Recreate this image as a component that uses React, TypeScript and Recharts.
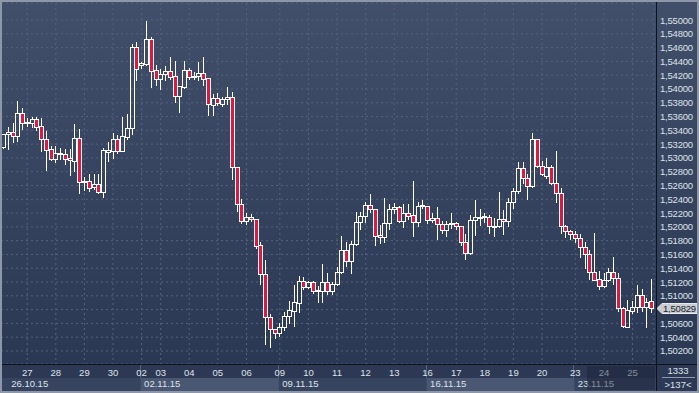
import { Bar, CartesianGrid, ComposedChart, ReferenceLine, XAxis, YAxis } from "recharts";

// H4 candles, 26.10.15 - 25.11.15
const open = [
  1.53163, 1.53343, 1.53372, 1.53314, 1.53647, 1.53502, 1.53511, 1.5356, 1.53463, 1.5327,
  1.53125, 1.52978, 1.53053, 1.53057, 1.52999, 1.5296, 1.53289, 1.52655, 1.52666, 1.52579,
  1.52618, 1.5251, 1.53086, 1.53101, 1.5327, 1.53105, 1.53308, 1.5343, 1.54604, 1.54348,
  1.54358, 1.5472, 1.54275, 1.54149, 1.54213, 1.54261, 1.54181, 1.53905, 1.54033, 1.54275,
  1.54184, 1.54184, 1.54227, 1.54155, 1.53772, 1.53865, 1.53782, 1.5385, 1.53879, 1.52873,
  1.52328, 1.5209, 1.52144, 1.5211, 1.51738, 1.51313, 1.50689, 1.50515, 1.50457, 1.50544,
  1.50708, 1.50785, 1.50901, 1.51216, 1.51133, 1.51197, 1.51081, 1.51071, 1.51197, 1.51075,
  1.51168, 1.51342, 1.51665, 1.5151, 1.51748, 1.52067, 1.52158, 1.52318, 1.52255, 1.51883,
  1.51849, 1.52052, 1.52255, 1.52293, 1.5209, 1.52197, 1.52177, 1.52067, 1.52313, 1.52308,
  1.521, 1.52125, 1.52038, 1.51955, 1.52038, 1.52052, 1.52006, 1.51785, 1.51617, 1.521,
  1.52125, 1.52154, 1.52148, 1.52009, 1.52019, 1.52115, 1.52086, 1.52357, 1.52521, 1.5285,
  1.52705, 1.52597, 1.5327, 1.52888, 1.52742, 1.52864, 1.52632, 1.52487, 1.52006, 1.51941,
  1.51893, 1.51835, 1.51704, 1.51603, 1.51342, 1.5124, 1.51143, 1.5123, 1.51342, 1.51255,
  1.5082, 1.50553, 1.50785, 1.50834, 1.5101, 1.50834, 1.50921,
];
const high = [
  1.53354, 1.53449, 1.53507, 1.53826, 1.53724, 1.53575, 1.53593, 1.53589, 1.53583, 1.53391,
  1.53173, 1.53169, 1.5314, 1.53134, 1.5313, 1.53492, 1.53424, 1.52719, 1.52763, 1.5276,
  1.52767, 1.5314, 1.53231, 1.53357, 1.53333, 1.53593, 1.53641, 1.54652, 1.54685, 1.54395,
  1.54986, 1.54753, 1.54348, 1.5429, 1.54333, 1.54464, 1.54406, 1.54043, 1.54406, 1.543,
  1.54242, 1.54391, 1.54464, 1.54155, 1.53927, 1.53937, 1.53883, 1.54024, 1.5396, 1.52873,
  1.52405, 1.52197, 1.52192, 1.5211, 1.51785, 1.5152, 1.50737, 1.50515, 1.50602, 1.50762,
  1.50922, 1.51158, 1.51288, 1.51278, 1.5122, 1.5122, 1.51143, 1.51458, 1.51327, 1.51205,
  1.51414, 1.51868, 1.51785, 1.51796, 1.52212, 1.52212, 1.52365, 1.52477, 1.52255, 1.52028,
  1.52415, 1.52332, 1.52351, 1.52303, 1.52328, 1.52328, 1.5267, 1.52357, 1.5239, 1.52308,
  1.52197, 1.52284, 1.5209, 1.5209, 1.52197, 1.52075, 1.52017, 1.51893, 1.52177, 1.5239,
  1.5226, 1.52206, 1.52177, 1.52125, 1.52502, 1.52245, 1.52423, 1.5256, 1.52937, 1.52937,
  1.52767, 1.53366, 1.5327, 1.5296, 1.53003, 1.52898, 1.53105, 1.5256, 1.52028, 1.51955,
  1.51945, 1.51893, 1.51785, 1.51665, 1.51916, 1.51361, 1.51327, 1.514, 1.51568, 1.51327,
  1.50834, 1.5094, 1.50926, 1.51158, 1.51095, 1.50965, 1.5124,
];
const low = [
  1.53151, 1.53134, 1.53235, 1.5325, 1.53424, 1.53463, 1.53449, 1.53405, 1.53105, 1.52825,
  1.5297, 1.52945, 1.5298, 1.52908, 1.52757, 1.52815, 1.52487, 1.52535, 1.52521, 1.5255,
  1.52496, 1.52429, 1.52956, 1.53005, 1.53076, 1.53098, 1.53279, 1.53351, 1.54125, 1.543,
  1.54348, 1.54033, 1.54058, 1.53999, 1.54125, 1.54145, 1.53804, 1.5367, 1.54018, 1.54145,
  1.5414, 1.5413, 1.54058, 1.53623, 1.53618, 1.53763, 1.53757, 1.53778, 1.52695, 1.52231,
  1.52061, 1.52038, 1.52086, 1.5169, 1.51168, 1.50298, 1.50263, 1.50393, 1.50418, 1.50505,
  1.50602, 1.50567, 1.5077, 1.511, 1.5111, 1.51046, 1.50915, 1.50915, 1.51023, 1.51027,
  1.51158, 1.51327, 1.51433, 1.51336, 1.51738, 1.51965, 1.52075, 1.5222, 1.51738, 1.51762,
  1.51785, 1.5197, 1.52197, 1.52075, 1.51998, 1.52115, 1.51872, 1.52017, 1.5227, 1.52061,
  1.52067, 1.5182, 1.51906, 1.51872, 1.51985, 1.5197, 1.51738, 1.51535, 1.5161, 1.51883,
  1.52028, 1.52067, 1.51916, 1.51872, 1.52, 1.51893, 1.52019, 1.5227, 1.52496, 1.52641,
  1.524, 1.52583, 1.52864, 1.52752, 1.52713, 1.52622, 1.52365, 1.51916, 1.51858, 1.5182,
  1.51785, 1.51568, 1.51408, 1.51245, 1.51223, 1.51095, 1.51128, 1.51216, 1.51168, 1.50785,
  1.50544, 1.50548, 1.50747, 1.5077, 1.50785, 1.50553, 1.5077,
];
const close = [
  1.53343, 1.53372, 1.53314, 1.53647, 1.53502, 1.53517, 1.53564, 1.53453, 1.5327, 1.53119,
  1.52978, 1.53072, 1.53072, 1.52989, 1.52966, 1.53289, 1.52655, 1.52661, 1.52568, 1.52622,
  1.5251, 1.53115, 1.53111, 1.53274, 1.53105, 1.53318, 1.53434, 1.54604, 1.54285, 1.54381,
  1.54725, 1.54265, 1.54149, 1.54213, 1.54261, 1.54174, 1.53905, 1.54036, 1.54275, 1.54178,
  1.54188, 1.54227, 1.54149, 1.53778, 1.53865, 1.53792, 1.53855, 1.53883, 1.52873, 1.52328,
  1.5209, 1.52144, 1.5211, 1.51727, 1.51313, 1.50689, 1.50515, 1.50457, 1.50544, 1.50708,
  1.50795, 1.50907, 1.51216, 1.51133, 1.51197, 1.51075, 1.51071, 1.51197, 1.51075, 1.51168,
  1.51342, 1.51665, 1.5151, 1.51748, 1.52067, 1.52158, 1.52318, 1.52255, 1.51872, 1.51849,
  1.52052, 1.52255, 1.52293, 1.5209, 1.52197, 1.52162, 1.52067, 1.52308, 1.52303, 1.521,
  1.52125, 1.52042, 1.51955, 1.52038, 1.52052, 1.52006, 1.51785, 1.51617, 1.521, 1.52139,
  1.52148, 1.52144, 1.52019, 1.52017, 1.52115, 1.52086, 1.52357, 1.52521, 1.5285, 1.52705,
  1.52597, 1.5327, 1.52888, 1.52763, 1.52864, 1.52632, 1.52487, 1.52006, 1.51941, 1.51893,
  1.51835, 1.51704, 1.51603, 1.51342, 1.5123, 1.51143, 1.5123, 1.51342, 1.51255, 1.5082,
  1.50563, 1.50795, 1.50834, 1.5101, 1.50834, 1.50915, 1.50829,
];

const dayTicks = [5, 11, 17, 23, 29, 33, 39, 45, 51, 58, 64, 70, 76, 82, 89, 95, 101, 107, 113, 120, 126, 132];
const dayLabels = ["27", "28", "29", "30", "02", "03", "04", "05", "06", "09", "10", "11", "12", "13", "16", "17", "18", "19", "20", "23", "24", "25"];
const firstWeekLabel = "26.10.15";
const weekStarts = [29, 58, 89, 120];
const weekLabels = ["02.11.15", "09.11.15", "16.11.15", "23.11.15"];
const priceTicks = [
  1.502, 1.504, 1.506, 1.508, 1.51, 1.512, 1.514, 1.516, 1.518, 1.52, 1.522, 1.524, 1.526,
  1.528, 1.53, 1.532, 1.534, 1.536, 1.538, 1.54, 1.542, 1.544, 1.546, 1.548, 1.55,
];
const barsTotal = "1333";
const barsShown = ">137<";

const W = 699;
const H = 393;
const AXIS_W = 45;
const AXIS_H = 29;
const M = { top: 3, right: 0, bottom: 0, left: 1 };
const BW = (W - M.left - AXIS_W) / open.length;
const FONT = '"Liberation Sans", Arial, sans-serif';
const TEXT = "#dde2ea";
const RED = "#e2173d";
const GRID = "#56637d";

const data = open.map((o, i) => ({ i, open: o, high: high[i], low: low[i], close: close[i], range: [low[i], high[i]] }));
const lastClose = close[close.length - 1];

const fmt = (v: number) => v.toFixed(5).replace(".", ",");

function Candle(props: any) {
  const { x, y, width, height, payload } = props;
  if (x == null || y == null || !payload) return null;
  const top = Math.min(y, y + height);
  const bottom = Math.max(y, y + height);
  const span = payload.high - payload.low || 1e-9;
  const toY = (v: number) => top + ((payload.high - v) / span) * (bottom - top);
  const cx = Math.floor(x + width / 2) + 0.5;
  const up = payload.close >= payload.open;
  const bTop = Math.round(toY(Math.max(payload.open, payload.close))) + 0.5;
  let bBot = Math.round(toY(Math.min(payload.open, payload.close))) + 0.5;
  if (bBot - bTop < 1) bBot = bTop + 1;
  return (
    <g>
      <line x1={cx} x2={cx} y1={Math.round(top)} y2={bTop} stroke="#fff" />
      <line x1={cx} x2={cx} y1={bBot} y2={Math.round(bottom) + 1} stroke="#fff" />
      <rect x={cx - 2} y={bTop} width={4} height={bBot - bTop} fill={up ? "none" : RED} stroke="#fff" />
    </g>
  );
}

function DayTick(props: any) {
  const { x, payload } = props;
  const k = dayTicks.indexOf(payload.value);
  const w = weekStarts.indexOf(payload.value);
  const next = w >= 0 && w + 1 < weekStarts.length ? weekStarts[w + 1] : null;
  return (
    <g fontFamily={FONT} fontSize={9.5}>
      {w >= 0 && w % 2 === 0 && next !== null && (
        <rect x={x - 1} y={378} width={(next - payload.value) * BW} height={13} fill="#4a5772" />
      )}
      {w >= 0 && <line x1={Math.round(x) - 1.5} x2={Math.round(x) - 1.5} y1={365} y2={378} stroke={GRID} />}
      {w >= 0 && (
        <text x={x + 2.5} y={387} fill={TEXT}>
          {weekLabels[w]}
        </text>
      )}
      {k === 0 && (
        <text x={x - 16} y={387} fill={TEXT}>
          {firstWeekLabel}
        </text>
      )}
      <text x={x} y={375.5} textAnchor="middle" fill={TEXT}>
        {dayLabels[k]}
      </text>
    </g>
  );
}

function PriceTick(props: any) {
  const { y, payload } = props;
  if (Math.abs(payload.value - lastClose) < 0.001) return null;
  return (
    <text x={660} y={y + 3.5} fill={TEXT} fontFamily={FONT} fontSize={9.5} letterSpacing={-0.2}>
      {fmt(payload.value)}
    </text>
  );
}

function PriceTag(props: any) {
  const vb = props.viewBox;
  if (!vb) return null;
  const y = Math.round(vb.y) + 0.5;
  const x0 = vb.x + vb.width + 3;
  return (
    <g>
      <polygon
        points={`${x0},${y} ${x0 + 5},${y - 5} ${697},${y - 5} ${697},${y + 5} ${x0 + 5},${y + 5}`}
        fill="#c9ccd1"
        stroke="#e6e8eb"
      />
      <text x={679.5} y={y + 3.5} textAnchor="middle" fill="#1c2130" fontFamily={FONT} fontSize={9.5} letterSpacing={-0.2}>
        {fmt(lastClose)}
      </text>
    </g>
  );
}

export default function App() {
  return (
    <div style={{ position: "relative", width: W, height: H, overflow: "hidden" }}>
      <style>{"body{margin:0}"}</style>
      <svg width={W} height={H} style={{ position: "absolute", left: 0, top: 0 }}>
        <defs>
          <linearGradient id="bg" x1="0" y1="0" x2="0" y2="1">
            <stop offset="0%" stopColor="#414f6a" />
            <stop offset="100%" stopColor="#2b3854" />
          </linearGradient>
        </defs>
        <rect x={0} y={0} width={W} height={364} fill="url(#bg)" />
        <rect x={0} y={364} width={W} height={14} fill="#2d3954" />
        <rect x={0} y={378} width={656} height={15} fill="#37445f" />
        <rect x={656} y={364} width={43} height={29} fill="#2d3954" />
      </svg>
      <div style={{ position: "absolute", left: 0, top: 0 }}>
        <ComposedChart width={W} height={H} data={data} margin={M} barCategoryGap={0}>
          <CartesianGrid stroke={GRID} strokeDasharray="2 3" />
          <XAxis
            dataKey="i"
            type="category"
            ticks={dayTicks}
            interval={0}
            tick={<DayTick />}
            tickLine={false}
            axisLine={false}
            height={AXIS_H}
          />
          <YAxis
            orientation="right"
            type="number"
            domain={[1.50011, 1.55247]}
            allowDataOverflow
            ticks={priceTicks}
            interval={0}
            tick={<PriceTick />}
            tickLine={false}
            axisLine={false}
            width={AXIS_W}
          />
          <Bar dataKey="range" shape={(p: any) => <Candle {...p} />} isAnimationActive={false} />
          <ReferenceLine y={lastClose} stroke="none" ifOverflow="visible" label={<PriceTag />} />
        </ComposedChart>
      </div>
      <svg width={W} height={H} style={{ position: "absolute", left: 0, top: 0, pointerEvents: "none" }}>
        <rect x={587} y={366} width={68} height={24} fill="rgba(24,32,50,0.45)" />
        <line x1={656.5} x2={656.5} y1={2} y2={391} stroke="#0e121a" />
        <line x1={2} x2={697} y1={364.5} y2={364.5} stroke="#0e121a" />
        <text x={678} y={374} textAnchor="middle" fill={TEXT} fontFamily={FONT} fontSize={9.5}>
          {barsTotal}
        </text>
        <line x1={662} x2={695} y1={377.5} y2={377.5} stroke="#8f98aa" />
        <text x={678} y={388} textAnchor="middle" fill={TEXT} fontFamily={FONT} fontSize={9.5}>
          {barsShown}
        </text>
        <rect x={1} y={1} width={697} height={391} fill="none" stroke="#8e97a7" strokeWidth={2} />
      </svg>
    </div>
  );
}
